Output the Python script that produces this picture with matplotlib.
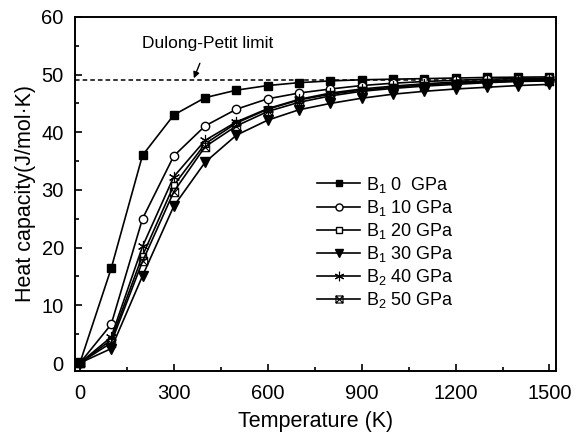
import numpy as np
import matplotlib
matplotlib.use('Agg')
import matplotlib.pyplot as plt
from matplotlib.path import Path
from matplotlib.ticker import MultipleLocator

plt.rcParams['font.family'] = ['Liberation Sans', 'DejaVu Sans']
plt.rcParams['mathtext.fontset'] = 'custom'
plt.rcParams['mathtext.rm'] = 'Liberation Sans'

# temperatures (K)
temps = [0, 100, 200, 300, 400, 500, 600, 700, 800, 900, 1000, 1100, 1200, 1300, 1400, 1500]

# heat capacity (J/mol.K) for each phase / pressure
cv_b1_0 = [0, 16.4, 36.0, 43.0, 46.0, 47.3, 48.1, 48.6, 48.9, 49.1, 49.2, 49.3, 49.4, 49.5, 49.55, 49.6]
cv_b1_10 = [0, 6.7, 25.0, 35.9, 41.1, 44.0, 45.8, 46.8, 47.5, 48.1, 48.5, 48.8, 49.0, 49.2, 49.3, 49.4]
cv_b1_20 = [0, 4.0, 18.6, 30.8, 38.0, 41.6, 44.0, 45.6, 46.6, 47.3, 47.8, 48.2, 48.5, 48.7, 48.9, 49.0]
cv_b1_30 = [0, 2.5, 15.1, 27.2, 34.8, 39.5, 42.1, 43.9, 45.0, 45.9, 46.6, 47.1, 47.5, 47.8, 48.1, 48.3]
cv_b2_40 = [0, 4.5, 20.2, 32.3, 38.6, 41.8, 44.1, 45.7, 46.8, 47.5, 48.0, 48.4, 48.7, 48.9, 49.1, 49.2]
cv_b2_50 = [0, 3.5, 17.6, 29.7, 37.5, 41.1, 43.6, 45.2, 46.3, 47.1, 47.6, 48.0, 48.3, 48.6, 48.8, 48.9]

labels = [r'B$_1$ 0  GPa', r'B$_1$ 10 GPa', r'B$_1$ 20 GPa', r'B$_1$ 30 GPa',
          r'B$_2$ 40 GPa', r'B$_2$ 50 GPa']
dulong_petit = 49.05

# square with an x inside
crossed_sq = Path([(-1, -1), (1, -1), (1, 1), (-1, 1), (-1, -1),
                   (-1, -1), (1, 1), (-1, 1), (1, -1)],
                  [Path.MOVETO, Path.LINETO, Path.LINETO, Path.LINETO, Path.CLOSEPOLY,
                   Path.MOVETO, Path.LINETO, Path.MOVETO, Path.LINETO])

styles = [
    dict(marker='s', mfc='black', ms=5.2),
    dict(marker='o', mfc='white', ms=6),
    dict(marker='s', mfc='white', ms=5),
    dict(marker='v', mfc='black', ms=6.5),
    dict(marker=(6, 2, 0), mfc='none', ms=8, mew=0.8),
    dict(marker=crossed_sq, mfc='none', ms=6, mew=0.8),
]

fig = plt.figure(figsize=(5.85, 4.33), dpi=100)
ax = fig.add_axes([0.128, 0.143, 0.822, 0.818])

series = [cv_b1_0, cv_b1_10, cv_b1_20, cv_b1_30, cv_b2_40, cv_b2_50]
for vals, lab, st in zip(series, labels, styles):
    ax.plot(temps, vals, color='black', lw=1.2, mec='black', label=lab, **st)

ax.axhline(dulong_petit, color='black', lw=1.1, ls=(0, (3, 2)))
ax.annotate('Dulong-Petit limit', xy=(364, dulong_petit + 0.3), xytext=(408, 55.3),
            ha='center', va='center', fontsize=12.5,
            arrowprops=dict(arrowstyle='-|>', color='black', lw=1.0,
                            shrinkA=7, shrinkB=0, mutation_scale=9))

ax.set_xlim(-16, 1520)
ax.set_ylim(-1.4, 60)
ax.xaxis.set_major_locator(MultipleLocator(300))
ax.xaxis.set_minor_locator(MultipleLocator(150))
ax.yaxis.set_major_locator(MultipleLocator(10))
ax.yaxis.set_minor_locator(MultipleLocator(5))
ax.tick_params(which='both', direction='in', labelsize=14.5, width=1.2)
ax.tick_params(which='major', length=5)
ax.tick_params(which='minor', length=3)
ax.tick_params(axis='x', pad=9)
ax.tick_params(axis='y', pad=8)
for sp in ax.spines.values():
    sp.set_linewidth(1.4)

ax.set_xlabel('Temperature (K)', fontsize=15.5, labelpad=6)
ax.set_ylabel('Heat capacity(J/mol·K)', fontsize=15.5, labelpad=4)

ax.legend(loc='upper left', bbox_to_anchor=(0.47, 0.60), frameon=False,
          fontsize=13, handlelength=2.4, labelspacing=0.17, handletextpad=0.3,
          markerscale=0.85)

fig.savefig('out.png', dpi=100)
